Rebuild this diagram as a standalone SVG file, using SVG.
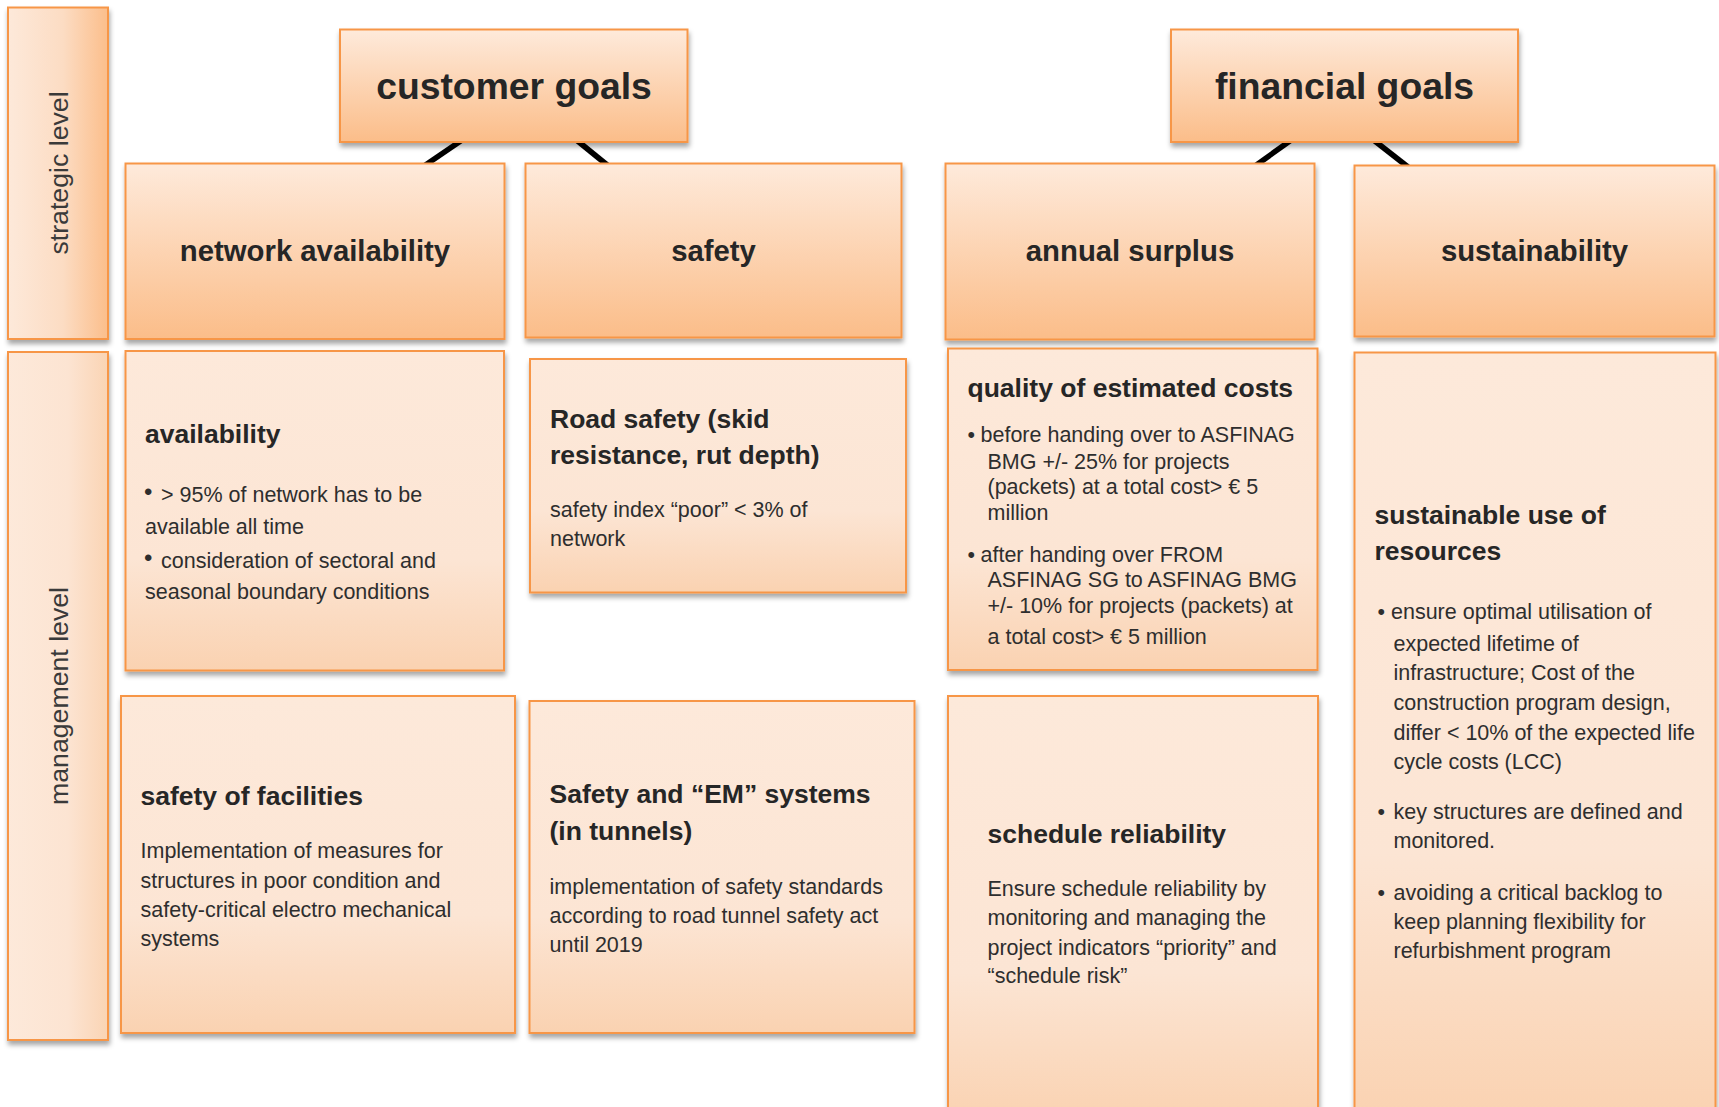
<svg xmlns="http://www.w3.org/2000/svg" width="1719" height="1107" viewBox="0 0 1719 1107">
<defs>
<linearGradient id="gStrat" x1="0" y1="0" x2="0" y2="1">
<stop offset="0" stop-color="#FEEADB"/>
<stop offset="1" stop-color="#FBBD89"/>
</linearGradient>
<linearGradient id="gMgmt" x1="0" y1="0" x2="0" y2="1">
<stop offset="0" stop-color="#FDE9DA"/>
<stop offset="0.65" stop-color="#FCE5D4"/>
<stop offset="1" stop-color="#FAD2B1"/>
</linearGradient>
<linearGradient id="gLvl1" x1="0" y1="0" x2="1" y2="0">
<stop offset="0" stop-color="#FDE9DA"/>
<stop offset="0.55" stop-color="#FCDCC3"/>
<stop offset="1" stop-color="#FBBE8B"/>
</linearGradient>
<linearGradient id="gLvl2" x1="0" y1="0" x2="1" y2="0">
<stop offset="0" stop-color="#FDE9DA"/>
<stop offset="0.6" stop-color="#FCE4D2"/>
<stop offset="1" stop-color="#FAD4B4"/>
</linearGradient>
<filter id="sh" x="-5%" y="-5%" width="112%" height="115%">
<feDropShadow dx="1" dy="4" stdDeviation="2.5" flood-color="#000" flood-opacity="0.35"/>
</filter>
</defs>
<style>
.box{stroke:#F79646;stroke-width:2;filter:url(#sh)}
.s{fill:url(#gStrat)}
.m{fill:url(#gMgmt)}
.conn{stroke:#000;stroke-width:5.5;fill:none}
text{font-family:"Liberation Sans",Arial,sans-serif;fill:#262626}
.goal{font-size:37.3px;font-weight:bold;text-anchor:middle}
.cat{font-size:29.3px;font-weight:bold;text-anchor:middle}
.lvl{font-size:26.7px;text-anchor:middle;fill:#3a3a3a}
.h{font-size:26.5px;font-weight:bold}
.b{font-size:21.5px;fill:#2e2e2e}
.bl{font-size:24px;fill:#2e2e2e}
</style>
<rect width="1719" height="1107" fill="#fff"/>

<g id="connectors">
<line class="conn" x1="465" y1="138" x2="424" y2="166"/>
<line class="conn" x1="574" y1="138" x2="609" y2="166.5"/>
<line class="conn" x1="1294" y1="138" x2="1255" y2="166"/>
<line class="conn" x1="1371" y1="138" x2="1408" y2="167"/>
</g>

<g id="strategic-level">
<rect class="box" x="8" y="7.5" width="100" height="331.5" fill="url(#gLvl1)"/>
<text class="lvl" transform="translate(68,173) rotate(-90)">strategic level</text>
</g>
<g id="management-level">
<rect class="box" x="8" y="352" width="100" height="688" fill="url(#gLvl2)"/>
<text class="lvl" transform="translate(68,696) rotate(-90)">management level</text>
</g>

<g id="customer-goals">
<rect class="box s" x="340" y="29.5" width="347.5" height="112.5"/>
<text class="goal" x="514" y="99">customer goals</text>
</g>
<g id="financial-goals">
<rect class="box s" x="1171" y="29.5" width="347" height="112.5"/>
<text class="goal" x="1344.5" y="99">financial goals</text>
</g>

<g id="network-availability">
<rect class="box s" x="125.5" y="163.5" width="379" height="175.5"/>
<text class="cat" x="315" y="261">network availability</text>
</g>
<g id="safety">
<rect class="box s" x="525.5" y="163.5" width="376" height="174"/>
<text class="cat" x="713.5" y="261">safety</text>
</g>
<g id="annual-surplus">
<rect class="box s" x="945.5" y="163.5" width="369" height="176"/>
<text class="cat" x="1130" y="261">annual surplus</text>
</g>
<g id="sustainability">
<rect class="box s" x="1354.5" y="165.5" width="360" height="171"/>
<text class="cat" x="1534.5" y="261">sustainability</text>
</g>

<g id="availability">
<rect class="box m" x="125.5" y="351" width="378.5" height="319.5"/>
<text class="h" x="145" y="443">availability</text>
<text class="bl" x="144" y="500">•</text>
<text class="b" x="161" y="502">&gt; 95% of network has to be</text>
<text class="b" x="145" y="533.5">available all time</text>
<text class="bl" x="144" y="565.5">•</text>
<text class="b" x="161" y="567.5">consideration of sectoral and</text>
<text class="b" x="145" y="599">seasonal boundary conditions</text>
</g>

<g id="road-safety">
<rect class="box m" x="530" y="359" width="376" height="233.5"/>
<text class="h" x="550" y="427.5">Road safety (skid</text>
<text class="h" x="550" y="464">resistance, rut depth)</text>
<text class="b" x="550" y="517">safety index “poor” &lt; 3% of</text>
<text class="b" x="550" y="545.5">network</text>
</g>

<g id="quality-of-estimated-costs">
<rect class="box m" x="948" y="348.5" width="369.5" height="321.5"/>
<text class="h" x="967.5" y="397">quality of estimated costs</text>
<text class="b" x="967.5" y="442">•</text>
<text class="b" x="980.5" y="442">before handing over to ASFINAG</text>
<text class="b" x="987.5" y="468.5">BMG +/- 25% for projects</text>
<text class="b" x="987.5" y="493.5">(packets) at a total cost&gt; € 5</text>
<text class="b" x="987.5" y="519.5">million</text>
<text class="b" x="967.5" y="562">•</text>
<text class="b" x="980.5" y="562">after handing over FROM</text>
<text class="b" x="987.5" y="587">ASFINAG SG to ASFINAG BMG</text>
<text class="b" x="987.5" y="613">+/- 10% for projects (packets) at</text>
<text class="b" x="987.5" y="643.5">a total cost&gt; € 5 million</text>
</g>

<g id="sustainable-use-of-resources">
<rect class="box m" x="1354.5" y="352.5" width="361" height="770"/>
<text class="h" x="1374.5" y="523.5">sustainable use of</text>
<text class="h" x="1374.5" y="560">resources</text>
<text class="b" x="1377.5" y="618.5">•</text>
<text class="b" x="1391" y="618.5">ensure optimal utilisation of</text>
<text class="b" x="1393.5" y="650.5">expected lifetime of</text>
<text class="b" x="1393.5" y="680">infrastructure; Cost of the</text>
<text class="b" x="1393.5" y="710">construction program design,</text>
<text class="b" x="1393.5" y="739.5">differ &lt; 10% of the expected life</text>
<text class="b" x="1393.5" y="768.5">cycle costs (LCC)</text>
<text class="b" x="1377.5" y="818.5">•</text>
<text class="b" x="1393.5" y="818.5">key structures are defined and</text>
<text class="b" x="1393.5" y="847.5">monitored.</text>
<text class="b" x="1377.5" y="899.5">•</text>
<text class="b" x="1393.5" y="899.5">avoiding a critical backlog to</text>
<text class="b" x="1393.5" y="929">keep planning flexibility for</text>
<text class="b" x="1393.5" y="957.5">refurbishment program</text>
</g>

<g id="safety-of-facilities">
<rect class="box m" x="121" y="696" width="394" height="337"/>
<text class="h" x="140.5" y="805">safety of facilities</text>
<text class="b" x="140.5" y="857.5">Implementation of measures for</text>
<text class="b" x="140.5" y="887.5">structures in poor condition and</text>
<text class="b" x="140.5" y="917">safety-critical electro mechanical</text>
<text class="b" x="140.5" y="946">systems</text>
</g>

<g id="safety-em-systems">
<rect class="box m" x="529.5" y="701" width="385" height="332"/>
<text class="h" x="549.5" y="802.5">Safety and “EM” systems</text>
<text class="h" x="549.5" y="839.5">(in tunnels)</text>
<text class="b" x="549.5" y="893.5">implementation of safety standards</text>
<text class="b" x="549.5" y="922.5">according to road tunnel safety act</text>
<text class="b" x="549.5" y="951.5">until 2019</text>
</g>

<g id="schedule-reliability">
<rect class="box m" x="948" y="696" width="370" height="426"/>
<text class="h" x="987.5" y="843">schedule reliability</text>
<text class="b" x="987.5" y="896">Ensure schedule reliability by</text>
<text class="b" x="987.5" y="925">monitoring and managing the</text>
<text class="b" x="987.5" y="954.5">project indicators “priority” and</text>
<text class="b" x="987.5" y="983">“schedule risk”</text>
</g>
</svg>
